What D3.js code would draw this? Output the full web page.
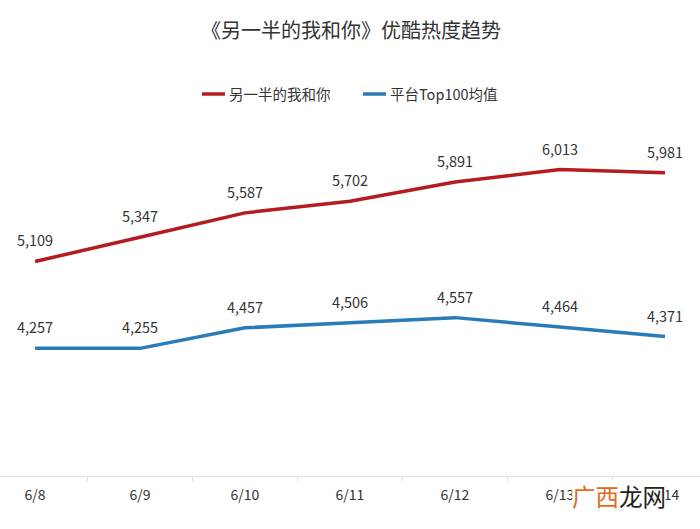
<!DOCTYPE html>
<html><head><meta charset="utf-8">
<script src="https://cdn.jsdelivr.net/npm/d3@7/dist/d3.min.js"></script>
<style>body{margin:0;background:#fff}svg{display:block}text{font-family:"Noto Sans CJK SC","Open Sans",sans-serif}</style>
</head><body><svg id="c" width="700" height="529"></svg>
<script>
const categories = ["6/8","6/9","6/10","6/11","6/12","6/13","6/14"];
const seriesNames = ["另一半的我和你","平台Top100均值"];
const showValues = [5109,5347,5587,5702,5891,6013,5981];
const platformValues = [4257,4255,4457,4506,4557,4464,4371];
const colors = ["#B51C20","#2A7BBA"];
const title = "《另一半的我和你》优酷热度趋势";

const svg = d3.select("#c");
const x = d3.scaleBand().domain(categories).range([-17.5, 717.5]);
const y = d3.scaleLinear().domain([3000, 6500]).range([476, 120]);
const cx = d => x(d) + x.bandwidth()/2;

svg.append("text").attr("x",351).attr("y",38).attr("text-anchor","middle")
  .attr("font-size",20).attr("fill","#333").text(title);

// legend
const lg = [{x:202,name:seriesNames[0],c:colors[0]},{x:363,name:seriesNames[1],c:colors[1]}];
lg.forEach(l=>{
  svg.append("line").attr("x1",l.x).attr("x2",l.x+23).attr("y1",94).attr("y2",94)
    .attr("stroke",l.c).attr("stroke-width",3.5);
  svg.append("text").attr("x",l.x+27).attr("y",99.5).attr("font-size",14.5).attr("fill","#333").text(l.name);
});

// axis
const ax = svg.append("g").attr("transform","translate(0,476)")
  .call(d3.axisBottom(x).tickSize(0).tickPadding(14));
ax.select(".domain").attr("stroke","#e0e0e0");
ax.selectAll("text").attr("font-size",14).attr("fill","#333").attr("font-family","'Noto Sans CJK SC',sans-serif");
categories.slice(1).forEach(c=>{
  ax.append("line").attr("x1",x(c)).attr("x2",x(c)).attr("y1",0).attr("y2",5).attr("stroke","#e0e0e0");
});

const line = d3.line().x((d,i)=>cx(categories[i])).y(d=>y(d));
[showValues, platformValues].forEach((vals,k)=>{
  svg.append("path").datum(vals).attr("d",line).attr("fill","none")
    .attr("stroke",colors[k]).attr("stroke-width",3.5).attr("stroke-linejoin","round");
  svg.append("g").selectAll("text").data(vals).join("text")
    .attr("x",(d,i)=>cx(categories[i])).attr("y",d=>y(d)-15)
    .attr("text-anchor","middle").attr("font-size",14.5).attr("fill","#333")
    .text(d=>d3.format(",")(d));
});

// watermark
const wm = svg.append("g");
wm.append("rect").attr("x",572).attr("y",482).attr("width",94).attr("height",30).attr("fill","#fff").attr("opacity",0.85);
const wt = wm.append("text").attr("x",572).attr("y",506).attr("font-size",23.5);
wt.append("tspan").attr("fill","#E06A1E").text("广西");
wt.append("tspan").attr("fill","#222").text("龙网");
</script></body></html>
